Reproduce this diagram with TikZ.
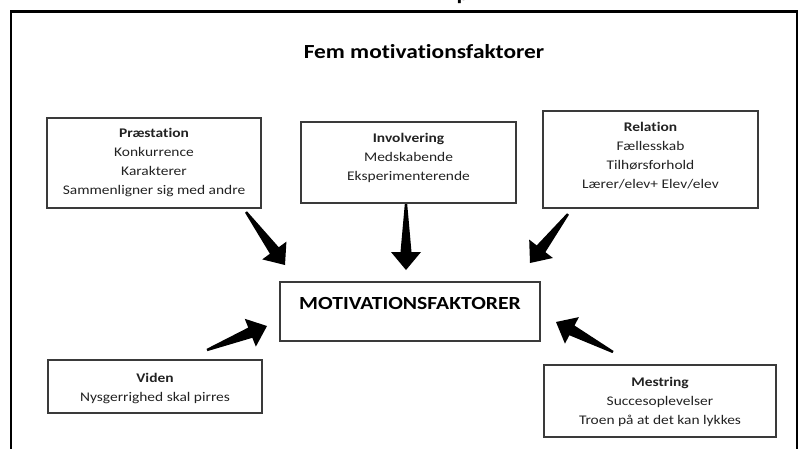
\documentclass[tikz,border=0pt]{standalone}
\usepackage{fontspec}
\setmainfont{Carlito}[FakeStretch=1.17, Ligatures=NoCommon]
\usetikzlibrary{calc}
\definecolor{boxline}{HTML}{3A3A3A}
\definecolor{txtcol}{HTML}{222222}
\tikzset{
  frameline/.style={line width=2.2pt, black},
  fbox/.style={draw=boxline, line width=1.3pt, rectangle, inner sep=0pt},
  ftext/.style={align=center, text=txtcol, font=\fontsize{13.2}{19}\selectfont, inner sep=0pt},
  titletext/.style={text=black, font=\fontsize{20}{24}\selectfont\bfseries, inner sep=0pt},
  maintext/.style={text=black, font=\fontsize{18.5}{22}\selectfont\bfseries, inner sep=0pt},
  arrowfill/.style={fill=black},
}
\newcommand\myblockarrow[2]{%
  \coordinate (hb) at ($(#2)!18pt!(#1)$);
  \fill[arrowfill] ($(#1)!1.2pt!90:(#2)$) -- ($(hb)!5.5pt!90:(#2)$) -- ($(hb)!15pt!90:(#2)$) -- (#2)
    -- ($(hb)!15pt!-90:(#2)$) -- ($(hb)!5.5pt!-90:(#2)$) -- ($(#1)!1.2pt!-90:(#2)$) -- cycle;
}
\begin{document}
\begin{tikzpicture}[x=1pt,y=-1pt]
\useasboundingbox (0,0) rectangle (800,448);
% cut-off fragment at top
\node[titletext, anchor=base] (frag) at (463,0) {p};
\fill[white] (0,-40) rectangle (800,0);
% outer frame
\draw[frameline] (11,470) -- (11,11.5) -- (797,11.5) -- (797,470);
% title
\node[titletext, anchor=base] (title) at (424,58) {Fem motivationsfaktorer};
% boxes
\node[fbox, minimum width=214pt, minimum height=90pt] (prae) at (154,163) {};
\node[ftext] (praet) at (154,162.5) {\textbf{Præstation}\\Konkurrence\\Karakterer\\Sammenligner sig med andre};
\node[fbox, minimum width=215pt, minimum height=81pt] (invo) at (408.5,162.5) {};
\node[ftext] (invot) at (408.5,158) {\textbf{Involvering}\\Medskabende\\Eksperimenterende};
\node[fbox, minimum width=215pt, minimum height=97pt] (rela) at (650.5,159.5) {};
\node[ftext] (relat) at (650.5,155.5) {\textbf{Relation}\\Fællesskab\\Tilhørsforhold\\Lærer/elev+ Elev/elev};
\node[fbox, minimum width=260pt, minimum height=59pt] (moti) at (410,311.5) {};
\node[maintext] (motit) at (410,303) {MOTIVATIONSFAKTORER};
\node[fbox, minimum width=214pt, minimum height=53pt] (vide) at (155,386.5) {};
\node[ftext] (videt) at (155,388) {\textbf{Viden}\\Nysgerrighed skal pirres};
\node[fbox, minimum width=232pt, minimum height=72pt] (mest) at (660,401) {};
\node[ftext] (mestt) at (660,401.5) {\textbf{Mestring}\\Succesoplevelser\\Troen på at det kan lykkes};
% arrow end points
\coordinate (a1s) at (246,212); \coordinate (a1e) at (285,265);
\coordinate (a2s) at (406,204); \coordinate (a2e) at (406,270);
\coordinate (a3s) at (568,214); \coordinate (a3e) at (530,263);
\coordinate (a4s) at (207,350); \coordinate (a4e) at (267,326);
\coordinate (a5s) at (613,352); \coordinate (a5e) at (556,322);
\myblockarrow{a1s}{a1e}
\myblockarrow{a2s}{a2e}
\myblockarrow{a3s}{a3e}
\myblockarrow{a4s}{a4e}
\myblockarrow{a5s}{a5e}
\end{tikzpicture}
\end{document}
